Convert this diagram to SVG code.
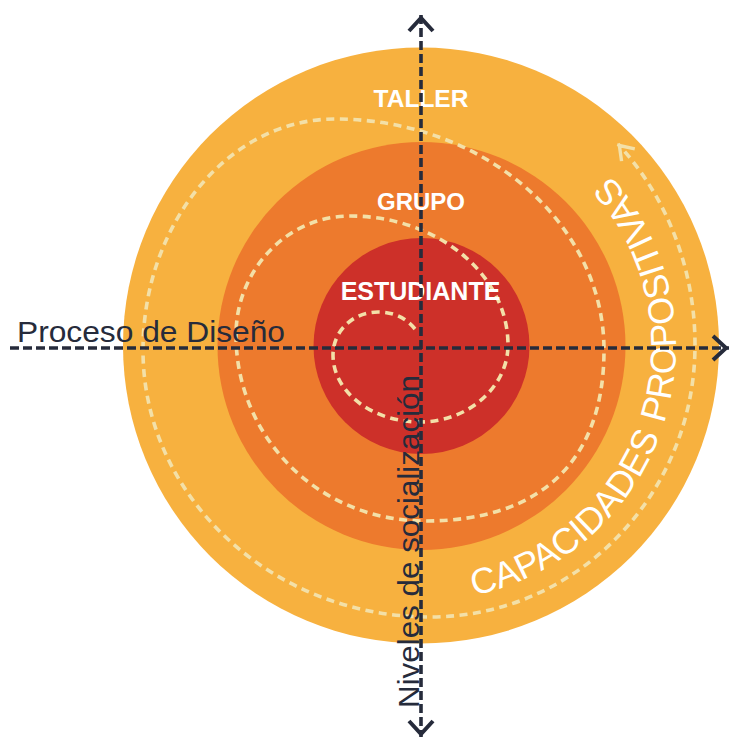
<svg xmlns="http://www.w3.org/2000/svg" width="731" height="740" viewBox="0 0 731 740">
  <style>
    .ring-label { font-family: "Liberation Sans", Arial, sans-serif; font-weight: bold; fill: #ffffff; text-anchor: middle; }
    .axis-label { font-family: "Liberation Sans", Arial, sans-serif; fill: #262b3b; }
    .axis { fill: none; stroke: #262b3b; stroke-width: 3.6; stroke-dasharray: 9 4; }
    .spiral { fill: none; stroke: #f3e0a8; stroke-width: 3.6; stroke-dasharray: 8 5.5; }
    .arc-label { font-family: "Liberation Sans", Arial, sans-serif; fill: #ffffff; font-size: 36px; }
  </style>
  <defs>
    <marker id="axisHead" viewBox="-24 -20 30 40" markerWidth="30" markerHeight="40" refX="0" refY="0" orient="auto-start-reverse" markerUnits="userSpaceOnUse">
      <path d="M-16,-12 L-3,0 L-16,12" fill="none" stroke="#262b3b" stroke-width="4"/>
    </marker>
    <marker id="spiralHead" viewBox="-20 -14 24 28" markerWidth="24" markerHeight="28" refX="0" refY="0" orient="auto" markerUnits="userSpaceOnUse">
      <path d="M-15,-9 L-2,0 L-15,9" fill="none" stroke="#f3e0a8" stroke-width="3.4"/>
    </marker>
    <!-- baseline arc for the curved caption, r = 255 around the centre -->
    <path id="capArc" d="M474,595.4 A255,255 0 0 0 584.9,150.7"/>
  </defs>

  <rect width="731" height="740" fill="#ffffff"/>

  <!-- concentric levels -->
  <g id="taller">
    <circle cx="421" cy="345.5" r="298" fill="#f7b13f"/>
    <text class="ring-label" x="421" y="107" font-size="24.5">TALLER</text>
  </g>
  <g id="grupo">
    <circle cx="421.5" cy="346" r="204" fill="#ed7a2d"/>
  </g>
  <g id="estudiante">
    <circle cx="421.5" cy="346" r="108" fill="#cd3029"/>
  </g>

  <!-- growth spiral -->
  <path class="spiral" marker-end="url(#spiralHead)" d="
    M415,329 Q401,312 378,312
    C353,312 333,331 333,355
    C333,392 372,422 420,422
    C468,422 508,387 508,345
    C508,274 437,216 350,216
    C287,216 236,270 236,335
    C236,437 318,521 425,521
    C541,521 604,461 604,350
    C604,223 483,119 335,119
    C229,119 143,223 143,350
    C143,497 272,617 430,617
    C576,617 695,495 695,345
    A265,285 0 0 0 618,144"/>

  <text class="ring-label" x="421" y="210" font-size="24">GRUPO</text>
  <text class="ring-label" x="420.5" y="300" font-size="25">ESTUDIANTE</text>

  <g id="capacidades">
    <text class="arc-label"><textPath href="#capArc">CAPACIDADES</textPath></text>
    <text class="arc-label"><textPath href="#capArc" startOffset="268">PROPOSITIVAS</textPath></text>
  </g>

  <!-- axes -->
  <g id="axes">
    <line class="axis" x1="421" y1="15" x2="421" y2="737" marker-start="url(#axisHead)" marker-end="url(#axisHead)"/>
    <line class="axis" x1="10" y1="348" x2="729" y2="348" marker-end="url(#axisHead)"/>
  </g>

  <g id="proceso">
    <text class="axis-label" x="17" y="342" font-size="30" textLength="268" lengthAdjust="spacingAndGlyphs">Proceso de Diseño</text>
  </g>
  <g id="niveles">
    <text class="axis-label" transform="translate(419,708) rotate(-90)" x="0" y="0" font-size="29" textLength="333" lengthAdjust="spacingAndGlyphs">Niveles de socialización</text>
  </g>
</svg>
